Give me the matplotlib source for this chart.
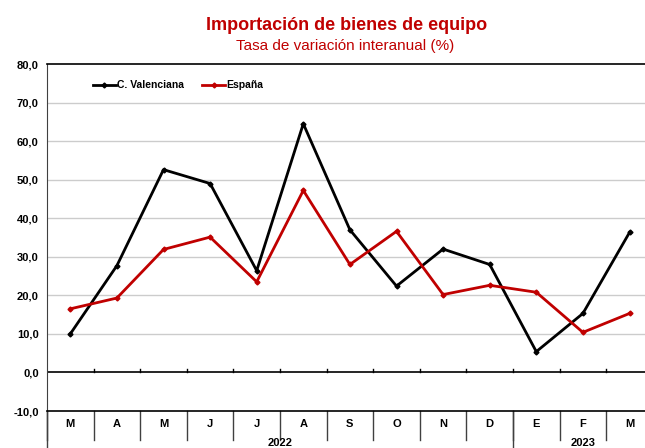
import matplotlib
matplotlib.use("Agg")
import matplotlib.pyplot as plt
from matplotlib.transforms import blended_transform_factory

months = ["M", "A", "M", "J", "J", "A", "S", "O", "N", "D", "E", "F", "M"]
years = ["2022", "2023"]
year_counts = [10, 3]
cv = [10.0, 27.7, 52.6, 49.0, 26.4, 64.5, 37.0, 22.4, 32.0, 28.0, 5.4, 15.3, 36.3]
esp = [16.5, 19.3, 31.9, 35.1, 23.5, 47.2, 28.0, 36.6, 20.2, 22.6, 20.8, 10.4, 15.3]
yticks = [-10, 0, 10, 20, 30, 40, 50, 60, 70, 80]

plt.rcParams['font.family'] = ['Liberation Sans Narrow', 'Liberation Sans', 'DejaVu Sans']

fig = plt.figure(figsize=(6.45, 4.48), dpi=100)
W, H = 645, 448
left, right, top, bottom = 47, 47 + 13 * 46.6, 64, 411
ax = fig.add_axes([left / W, 1 - bottom / H, (right - left) / W, (bottom - top) / H])

x = list(range(len(months)))
red = "#c00000"
ax.plot(x, cv, color="black", lw=2, marker="D", ms=2.5, label="C. Valenciana", zorder=3)
ax.plot(x, esp, color=red, lw=2, marker="D", ms=2.5, label="España", zorder=3)

ax.set_xlim(-0.5, len(months) - 0.5)
ax.set_ylim(-10, 80)
ax.set_yticks(yticks)
ax.set_yticklabels([f"{v:.1f}".replace(".", ",") for v in yticks], fontsize=8, fontweight="bold")
ax.tick_params(axis="y", length=0, pad=6)
ax.set_xticks([])
for v in yticks[2:-1]:
    ax.axhline(v, color="#cccccc", lw=1, zorder=1)
ax.axhline(0, color="black", lw=1.2, zorder=2)
for i in range(len(months) - 1):
    ax.plot([i + 0.5, i + 0.5], [0, 0.8], color="black", lw=1, zorder=2)

for s in ["top", "bottom"]:
    ax.spines[s].set_color("black")
    ax.spines[s].set_linewidth(1.2)
ax.spines["left"].set_color("#404040")
ax.spines["right"].set_visible(False)

# category table below
tr = blended_transform_factory(ax.transData, ax.transAxes)
fb = (bottom - top)
def yfrac(py):
    return (bottom - py) / fb
for i, m in enumerate(months):
    ax.text(i, yfrac(424), m, transform=tr, ha="center", va="center",
            fontsize=8, fontweight="bold", clip_on=False)
for i in range(len(months)):
    ax.plot([i - 0.5, i - 0.5], [0, yfrac(440)], transform=tr, color="#404040",
            lw=1, clip_on=False)
start = 0
for yr, c in zip(years, year_counts):
    ax.plot([start - 0.5, start - 0.5], [0, yfrac(452)], transform=tr, color="#404040",
            lw=1, clip_on=False)
    ax.text(start - 0.5 + c / 2, yfrac(443), yr, transform=tr, ha="center", va="center",
            fontsize=8, fontweight="bold", clip_on=False)
    start += c

leg = ax.legend(loc="upper left", bbox_to_anchor=(0.06, 0.98), ncol=2, frameon=False,
                prop={"size": 7.5, "weight": "bold"}, handlelength=2.2, handletextpad=0.1,
                columnspacing=1.8)

fig.text(347 / W, 1 - 26 / H, "Importación de bienes de equipo", color=red,
         fontsize=13, fontweight="bold", ha="center", va="center")
fig.text(345 / W, 1 - 46 / H, "Tasa de variación interanual (%)", color=red,
         fontsize=11, ha="center", va="center")

fig.savefig("out.png", dpi=100)
